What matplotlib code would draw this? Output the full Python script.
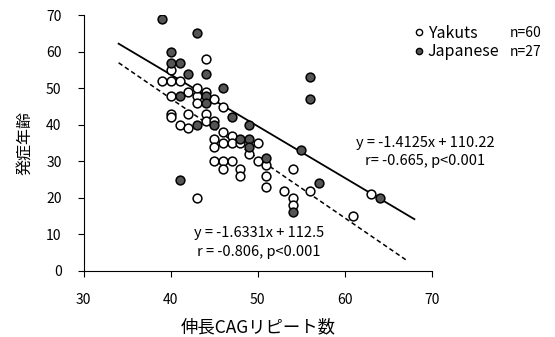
import matplotlib
matplotlib.use("Agg")
import matplotlib.pyplot as plt
from matplotlib.lines import Line2D
import numpy as np

plt.rcParams['font.family'] = ['Noto Sans CJK JP', 'DejaVu Sans']

W, H = 555, 337

# Yakuts (open circles)
yakuts_cag = [44, 40, 39, 40, 41, 42, 44, 40, 43, 45, 43, 46, 40, 40, 42, 44, 41, 42, 44, 45,
              46, 47, 45, 46, 47, 50, 45, 49, 45, 46, 47, 50, 46, 48, 48, 51, 51, 51, 54, 53,
              54, 54, 43, 56, 61, 63, 48, 43]
yakuts_onset = [58, 55, 52, 52, 52, 49, 49, 48, 48, 47, 46, 45, 43, 42, 43, 43, 40, 39, 41, 41,
                38, 37, 36, 35, 35, 35, 34, 32, 30, 30, 30, 30, 28, 28, 26, 29, 26, 23, 28, 22,
                20, 18, 20, 22, 15, 21, 35, 50]

# Japanese (filled circles)
japanese_cag = [39, 43, 40, 40, 41, 42, 44, 46, 41, 44, 44, 47, 43, 45, 49, 48, 49, 49, 56, 56,
                55, 51, 57, 54, 64, 41]
japanese_onset = [69, 65, 60, 57, 57, 54, 54, 50, 48, 48, 46, 42, 40, 40, 40, 36, 36, 34, 53, 47,
                  33, 31, 24, 16, 20, 25]

# regression lines as printed on the chart: (slope, intercept, x range)
fit_japanese = (-1.4125, 110.22, 34, 68)
fit_yakuts = (-1.6331, 112.5, 34, 67)


def px_text(x, y, s, **kw):
    # place text by pixel position measured from the top-left corner
    fig.text(x / W, 1 - y / H, s, va="center", **kw)


fig = plt.figure(figsize=(W / 100, H / 100), dpi=100)
ax = fig.add_axes([0.151, 0.196, 0.627, 0.759])

ax.scatter(yakuts_cag, yakuts_onset, s=40, facecolor="white", edgecolor="black", linewidth=1.1, zorder=3)
ax.scatter(japanese_cag, japanese_onset, s=40, facecolor="#555555", edgecolor="black", linewidth=1.1, zorder=4)

xs = np.array(fit_japanese[2:])
ax.plot(xs, fit_japanese[0] * xs + fit_japanese[1], color="black", lw=1.3, zorder=2)
xs = np.array(fit_yakuts[2:])
ax.plot(xs, fit_yakuts[0] * xs + fit_yakuts[1], color="black", lw=1.1, ls=(0, (3, 2)), zorder=2)

ax.set_xlim(30, 70)
ax.set_ylim(0, 70)
ax.set_xticks([30, 40, 50, 60, 70])
ax.set_yticks(range(0, 71, 10))
ax.spines["top"].set_visible(False)
ax.spines["right"].set_visible(False)
ax.tick_params(direction="out", length=4, labelsize=10, pad=12)
ax.set_xlabel("伸長CAGリピート数", fontsize=12.5, labelpad=8)
ax.set_ylabel("発症年齢", fontsize=11.5, labelpad=9)

px_text(425, 143, "y = -1.4125x + 110.22", fontsize=10.5, ha="center")
px_text(425, 161, "r= -0.665, p<0.001", fontsize=10.5, ha="center")
px_text(259, 233, "y = -1.6331x + 112.5", fontsize=10.5, ha="center")
px_text(259, 252, "r = -0.806, p<0.001", fontsize=10.5, ha="center")

handles = [Line2D([], [], ls="none", marker="o", markersize=4.5, markerfacecolor="white", markeredgecolor="black"),
           Line2D([], [], ls="none", marker="o", markersize=4.5, markerfacecolor="#555555", markeredgecolor="black")]
fig.legend(handles, ["Yakuts", "Japanese"], loc="center left", bbox_to_anchor=(414 / W, 1 - 42.5 / H),
           frameon=False, fontsize=11.5, handletextpad=0.25, handlelength=0.6, labelspacing=0.1,
           borderpad=0, borderaxespad=0)
px_text(510, 33, "n=60", fontsize=10)
px_text(510, 52, "n=27", fontsize=10)

fig.savefig("out.png", dpi=100)
